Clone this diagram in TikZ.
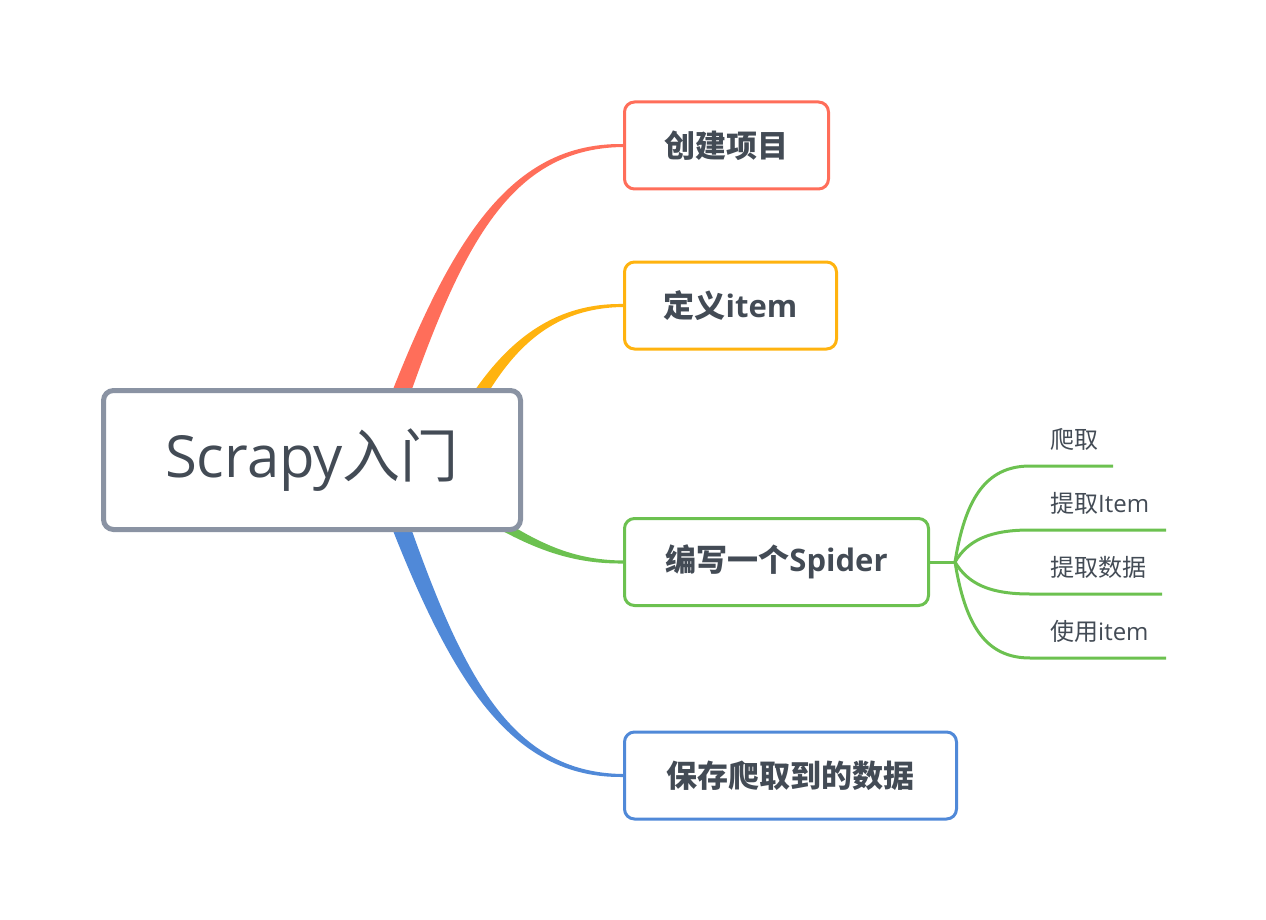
\documentclass[tikz,border=0pt]{standalone}
\usepackage{fontspec}
\setmainfont{Open Sans}
\newfontfamily\cjk{Noto Sans CJK SC}
\usetikzlibrary{backgrounds}

\definecolor{rootgray}{HTML}{8A93A3}
\definecolor{txt}{HTML}{434B55}
\definecolor{redb}{HTML}{FF6E5A}
\definecolor{orgb}{HTML}{FFB30F}
\definecolor{grnb}{HTML}{6CC150}
\definecolor{blub}{HTML}{5089D8}

\begin{document}
\begin{tikzpicture}[
            x=1pt, y=-1pt,
            root/.style={draw=rootgray, line width=5pt, rounded corners=10pt,
                fill=white, text=txt, font=\fontsize{58}{70}\selectfont,
                minimum width=417pt, minimum height=139pt},
            topic/.style={line width=3pt, rounded corners=10pt, fill=white,
                text=txt, font=\fontsize{31}{38}\selectfont\bfseries,
                minimum height=87pt, anchor=west},
            sub/.style={text=txt, font=\fontsize{24}{29}\selectfont,
                anchor=base west, inner sep=0pt},
            twig/.style={draw=grnb, line width=3pt},
        ]
            \useasboundingbox (0, 0) rectangle (1266, 920);

            \node[root] (ctr) at (312, 460) {Scrapy{\cjk 入门}};

            \node[topic, draw=redb, minimum width=204pt] (b1) at (623, 145.5) {\cjk 创建项目};
            \node[topic, draw=orgb, minimum width=212pt] (b2) at (623, 305.5) {{\cjk 定义}item};
            \node[topic, draw=grnb, minimum width=304pt] (b3) at (623, 562) {{\cjk 编写一个}Spider};
            \node[topic, draw=blub, minimum width=332pt] (b4) at (623, 775.5) {\cjk 保存爬取到的数据};

            %% tapered branches, they start behind the root box
            \begin{scope}[on background layer]
                \fill[redb] (367.5, 456.5) .. controls (440.4, 257.7) and (500, 142.5) .. ([yshift=1.5pt]b1.west)
                    -- ([yshift=-1.5pt]b1.west) .. controls (500, 148.5) and (453.6, 262.3) .. (386.5, 463.5) -- cycle;
                \fill[orgb] (437.2, 456.5) .. controls (484.5, 357.5) and (540, 302.8) .. ([yshift=1.5pt]b2.west)
                    -- ([yshift=-1.5pt]b2.west) .. controls (540, 308.2) and (495.5, 362.5) .. (452.8, 463.5) -- cycle;
                \fill[grnb] (473.3, 500) .. controls (532.2, 541.7) and (570, 560) .. ([yshift=1.5pt]b3.west)
                    -- ([yshift=-1.5pt]b3.west) .. controls (570, 564) and (527.8, 548.3) .. (466.7, 510) -- cycle;
                \fill[blub] (367.5, 463.5) .. controls (440.4, 662.3) and (500, 778.5) .. ([yshift=-1.5pt]b4.west)
                    -- ([yshift=1.5pt]b4.west) .. controls (500, 772.5) and (453.6, 657.7) .. (386.5, 456.5) -- cycle;
            \end{scope}

            %% the spider branch forks into four
            \coordinate (fork) at (955, 562);
            \coordinate (k1) at (1030, 466);
            \coordinate (k2) at (1030, 530);
            \coordinate (k3) at (1030, 594);
            \coordinate (k4) at (1030, 658);
            \coordinate (e1) at (1113, 466);
            \coordinate (e2) at (1166, 530);
            \coordinate (e3) at (1162, 594);
            \coordinate (e4) at (1166, 658);

            \draw[twig] (b3.east) -- (fork);
            \draw[twig] (fork) .. controls (965, 500) and (985, 466) .. (k1) -- (e1);
            \draw[twig] (fork) .. controls (968, 540) and (990, 530) .. (k2) -- (e2);
            \draw[twig] (fork) .. controls (968, 584) and (990, 594) .. (k3) -- (e3);
            \draw[twig] (fork) .. controls (965, 624) and (985, 658) .. (k4) -- (e4);

            \node[sub] (s1) at (1050, 448) {\cjk 爬取};
            \node[sub] (s2) at (1050, 512) {{\cjk 提取}Item};
            \node[sub] (s3) at (1050, 576) {\cjk 提取数据};
            \node[sub] (s4) at (1050, 640) {{\cjk 使用}item};
        \end{tikzpicture}
\end{document}
